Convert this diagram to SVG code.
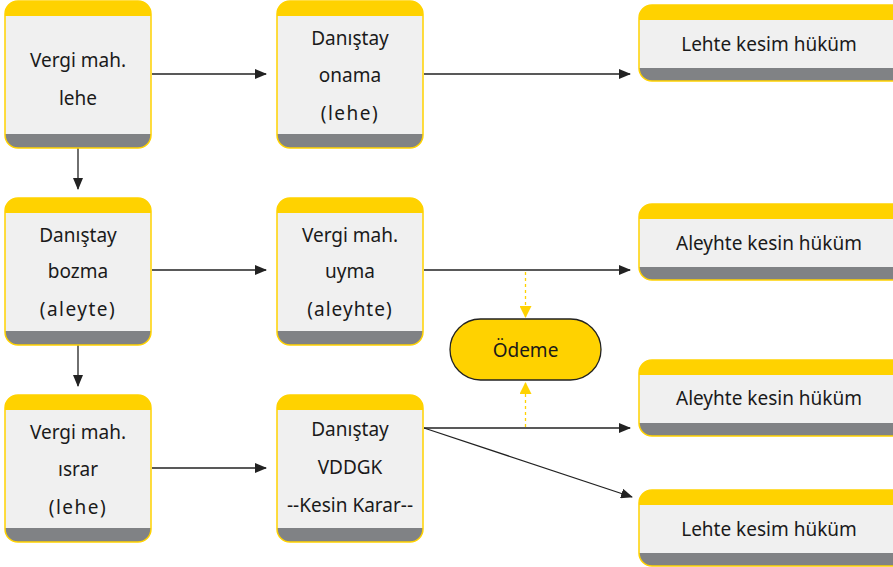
<svg xmlns="http://www.w3.org/2000/svg" width="893" height="567" viewBox="0 0 893 567">
<defs>
<style>
.t{font-family:"Noto Sans","DejaVu Sans",sans-serif;font-size:19px;fill:#1a1a1a;text-anchor:middle}
.bg{fill:#f0f0f0}
.yb{fill:#ffd200}
.gb{fill:#808285}
.bd{fill:none;stroke:#ffd200;stroke-width:1.5}
.c{stroke:#222;stroke-width:1.3;fill:none}
.d{stroke:#ffd200;stroke-width:1.3;stroke-dasharray:3,3;fill:none}
</style>
<marker id="ah" markerWidth="12" markerHeight="10" refX="11" refY="5" orient="auto" markerUnits="userSpaceOnUse"><path d="M0,0 L12,5 L0,10 Z" fill="#222"/></marker>
<marker id="ay" markerWidth="12" markerHeight="12" refX="11" refY="6" orient="auto" markerUnits="userSpaceOnUse"><path d="M0,0 L12,6 L0,12 Z" fill="#ffd200"/></marker>
<clipPath id="cs"><rect x="0" y="0" width="146" height="147" rx="13"/></clipPath>
<clipPath id="cw"><rect x="0" y="0" width="270" height="76" rx="13"/></clipPath>
<g id="sq"><g clip-path="url(#cs)"><rect class="bg" width="146" height="147"/><rect class="yb" width="146" height="15"/><rect class="gb" y="133" width="146" height="14"/></g><rect class="bd" width="146" height="147" rx="13"/></g>
<g id="wd"><g clip-path="url(#cw)"><rect class="bg" width="270" height="76"/><rect class="yb" width="270" height="15"/><rect class="gb" y="63" width="270" height="13"/></g><rect class="bd" width="270" height="76" rx="13"/></g>
</defs>
<rect width="893" height="567" fill="#fff"/>
<g id="connectors">
<line class="c" x1="152" y1="74" x2="266" y2="74" marker-end="url(#ah)"/>
<line class="c" x1="424" y1="74" x2="630" y2="74" marker-end="url(#ah)"/>
<line class="c" x1="78" y1="148" x2="78" y2="189" marker-end="url(#ah)"/>
<line class="c" x1="152" y1="270" x2="266" y2="270" marker-end="url(#ah)"/>
<line class="c" x1="424" y1="270" x2="630" y2="270" marker-end="url(#ah)"/>
<line class="c" x1="78" y1="345" x2="78" y2="386" marker-end="url(#ah)"/>
<line class="c" x1="152" y1="468" x2="266" y2="468" marker-end="url(#ah)"/>
<line class="c" x1="424" y1="428" x2="630" y2="428" marker-end="url(#ah)"/>
<line class="c" x1="424" y1="428" x2="632" y2="497" marker-end="url(#ah)"/>
<line class="d" x1="525.5" y1="272" x2="525.5" y2="317" marker-end="url(#ay)"/>
<line class="d" x1="525.5" y1="427" x2="525.5" y2="383" marker-end="url(#ay)"/>
</g>
<g id="n1"><use href="#sq" x="5" y="1"/><text class="t" x="78" y="67">Vergi mah.</text><text class="t" x="78" y="105">lehe</text></g>
<g id="n2"><use href="#sq" x="277" y="1"/><text class="t" x="350" y="45">Danıştay</text><text class="t" x="350" y="82">onama</text><text class="t" x="350" y="120" letter-spacing="1.5">(lehe)</text></g>
<g id="n3"><use href="#wd" x="639" y="5"/><text class="t" x="769" y="51">Lehte kesim hüküm</text></g>
<g id="n4"><use href="#sq" x="5" y="198"/><text class="t" x="78" y="242">Danıştay</text><text class="t" x="78" y="278">bozma</text><text class="t" x="78" y="316" letter-spacing="1.5">(aleyte)</text></g>
<g id="n5"><use href="#sq" x="277" y="198"/><text class="t" x="350" y="242">Vergi mah.</text><text class="t" x="350" y="278">uyma</text><text class="t" x="350" y="316" letter-spacing="1">(aleyhte)</text></g>
<g id="n6"><use href="#wd" x="639" y="204"/><text class="t" x="769" y="250">Aleyhte kesin hüküm</text></g>
<g id="n7"><rect x="450" y="319" width="151" height="61" rx="30.5" fill="#ffd200" stroke="#222" stroke-width="1.3"/><text class="t" x="525.5" y="357">Ödeme</text></g>
<g id="n8"><use href="#wd" x="639" y="360"/><text class="t" x="769" y="405">Aleyhte kesin hüküm</text></g>
<g id="n9"><use href="#sq" x="5" y="395"/><text class="t" x="78" y="439">Vergi mah.</text><text class="t" x="78" y="476">ısrar</text><text class="t" x="78" y="514" letter-spacing="1.5">(lehe)</text></g>
<g id="n10"><use href="#sq" x="277" y="395"/><text class="t" x="350" y="436">Danıştay</text><text class="t" x="350" y="474">VDDGK</text><text class="t" x="350" y="512">--Kesin Karar--</text></g>
<g id="n11"><use href="#wd" x="639" y="490"/><text class="t" x="769" y="536">Lehte kesim hüküm</text></g>
</svg>
